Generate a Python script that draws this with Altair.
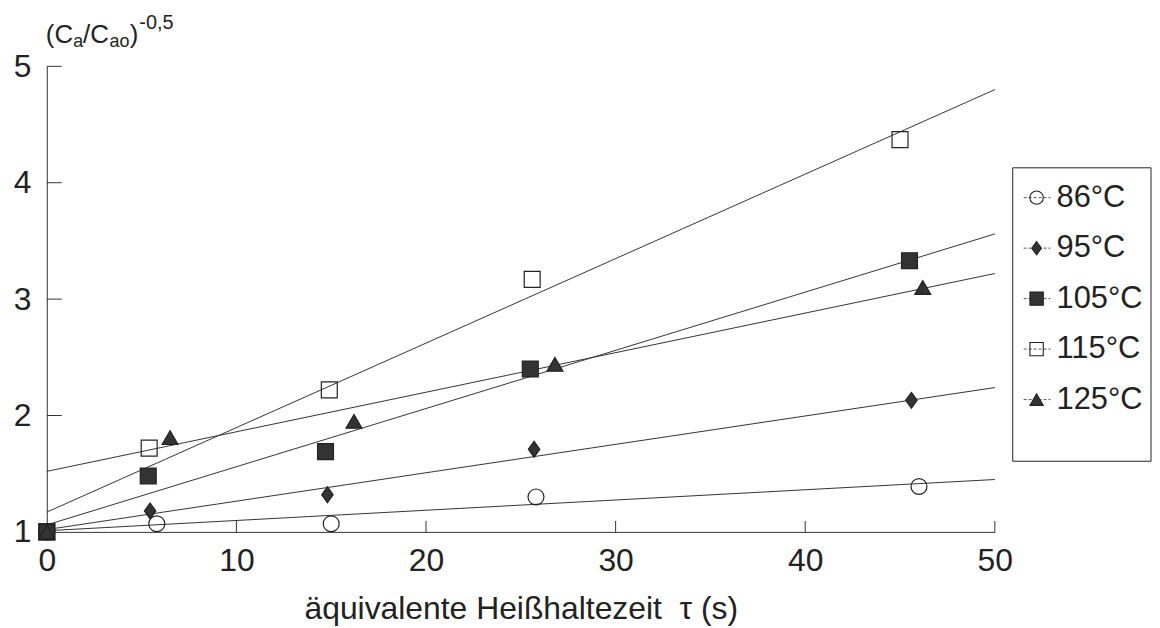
import altair as alt
import pandas as pd

# ---------------- data ----------------
temps = ["86°C", "95°C", "105°C", "115°C", "125°C"]

tau_86 = [0, 5.8, 15.0, 25.8, 46.0]
val_86 = [1.0, 1.07, 1.07, 1.30, 1.39]
tau_95 = [0, 5.45, 14.8, 25.7, 45.6]
val_95 = [1.0, 1.18, 1.32, 1.71, 2.13]
tau_105 = [0, 5.35, 14.7, 25.5, 45.5]
val_105 = [1.0, 1.48, 1.69, 2.40, 3.33]
tau_115 = [0, 5.4, 14.9, 25.6, 45.0]
val_115 = [1.0, 1.72, 2.22, 3.17, 4.37]
tau_125 = [0, 6.5, 16.2, 26.8, 46.2]
val_125 = [1.0, 1.81, 1.95, 2.44, 3.10]

# fitted straight lines: value at tau = 0 and at tau = 50
fit_x = [0, 50]
fit_start = [1.01, 1.02, 1.06, 1.17, 1.52]
fit_end = [1.45, 2.24, 3.56, 4.80, 3.22]

x_ticks = [10, 20, 30, 40, 50]
y_ticks = [2, 3, 4, 5]
x_labels = [0, 10, 20, 30, 40, 50]
y_labels = [1, 2, 3, 4, 5]

x_title = "äquivalente Heißhaltezeit\u00a0\u00a0τ (s)"

# ---------------- tables ----------------
series = {
    "86°C": (tau_86, val_86),
    "95°C": (tau_95, val_95),
    "105°C": (tau_105, val_105),
    "115°C": (tau_115, val_115),
    "125°C": (tau_125, val_125),
}
pts_rows = []
for t in temps:
    xs_, vs_ = series[t]
    for a, b in zip(xs_, vs_):
        pts_rows.append({"temp": t, "tau": a, "val": b})
pts_df = pd.DataFrame(pts_rows)

line_rows = []
for t, s, e in zip(temps, fit_start, fit_end):
    line_rows.append({"temp": t, "tau": fit_x[0], "val": s})
    line_rows.append({"temp": t, "tau": fit_x[1], "val": e})
line_df = pd.DataFrame(line_rows)

leg_df = pd.DataFrame({"temp": temps})

# ---------------- styling ----------------
FONT = "Liberation Sans"
INK = "#222222"
DIAMOND = "M0,-1L0.72,0L0,1L-0.72,0Z"

xs = alt.Scale(domain=[0, 50], nice=False, zero=False)
ys = alt.Scale(domain=[1, 5], nice=False, zero=False)

xaxis = alt.Axis(values=x_labels, format="d", ticks=False, grid=False,
                 labelFont=FONT, labelFontSize=32, labelColor=INK,
                 labelPadding=14, labelFlush=False, labelOverlap=False,
                 domainColor="#333333", domainWidth=1,
                 title=x_title, titleFont=FONT, titleFontSize=32,
                 titleFontWeight="normal", titleColor=INK,
                 titleY=87, titleBaseline="alphabetic")
yaxis = alt.Axis(values=y_labels, format="d", ticks=False, grid=False,
                 labelFont=FONT, labelFontSize=32, labelColor=INK,
                 labelPadding=16, labelOverlap=False,
                 domainColor="#333333", domainWidth=1, title=None)

shape_scale = alt.Scale(domain=temps,
                        range=["circle", DIAMOND, "square", "square", "triangle-up"])
fill_scale = alt.Scale(domain=temps,
                       range=["transparent", "#333333", "#333333", "transparent", "#333333"])
size_scale = alt.Scale(domain=temps, range=[256, 256, 225, 200, 250])

X = lambda f: alt.X(f, scale=xs, axis=xaxis)
Y = lambda f: alt.Y(f, scale=ys, axis=yaxis)

lines = alt.Chart(line_df).mark_line(color="#333333", strokeWidth=1).encode(
    x=X("tau:Q"), y=Y("val:Q"), detail="temp:N")

points = alt.Chart(pts_df).mark_point(filled=True, stroke=INK, strokeWidth=1.2,
                                      opacity=1).encode(
    x=X("tau:Q"), y=Y("val:Q"),
    shape=alt.Shape("temp:N", scale=shape_scale, legend=None),
    fill=alt.Fill("temp:N", scale=fill_scale, legend=None),
    size=alt.Size("temp:O", scale=size_scale, legend=None),
)

xt = alt.Chart(pd.DataFrame({"tau": x_ticks})).mark_rule(color="#333333", strokeWidth=1).encode(
    x=X("tau:Q"), y=alt.value(468), y2=alt.value(457))
yt = alt.Chart(pd.DataFrame({"val": y_ticks})).mark_rule(color="#333333", strokeWidth=1).encode(
    y=Y("val:Q"), x=alt.value(0), x2=alt.value(15))

one = alt.Data(values=[{}])


def piece(txt, x, y, size):
    return alt.Chart(one).mark_text(text=txt, font=FONT, fontSize=size, color=INK,
                                    align="left", baseline="alphabetic").encode(
        x=alt.value(x), y=alt.value(y))


ytitle = [
    piece("(C", -1, -23, 26),
    piece("a", 26.5, -19, 18),
    piece("/C", 36.5, -23, 26),
    piece("ao", 63, -19, 18),
    piece(")", 83.5, -23, 26),
    piece("-0,5", 93, -38, 20),
]

main = alt.layer(lines, points, xt, yt, *ytitle)

# ---------------- legend ----------------
ly = alt.Y("temp:N", sort=temps,
           scale=alt.Scale(type="point", domain=temps, range=[132, 335], padding=0),
           axis=None)

leg_box = alt.Chart(one).mark_rect(fill="white", stroke=INK, strokeWidth=1).encode(
    x=alt.value(971), x2=alt.value(1110), y=alt.value(102), y2=alt.value(397))
leg_rules = alt.Chart(leg_df).mark_rule(color="#555555", strokeWidth=1,
                                        strokeDash=[3, 2]).encode(
    x=alt.value(982), x2=alt.value(1009), y=ly)
leg_pts = alt.Chart(leg_df).mark_point(filled=True, stroke=INK, strokeWidth=1.1,
                                       opacity=1, size=180).encode(
    x=alt.value(995), y=ly,
    shape=alt.Shape("temp:N", scale=shape_scale, legend=None),
    fill=alt.Fill("temp:N", scale=fill_scale, legend=None),
)
leg_text = alt.Chart(leg_df).mark_text(align="left", baseline="middle", font=FONT,
                                       fontSize=31, color=INK).encode(
    x=alt.value(1015), y=ly, text="temp:N")

legend = alt.layer(leg_box, leg_rules, leg_pts, leg_text)

chart = alt.layer(main, legend).resolve_scale(y="independent").properties(
    width=953, height=468,
    autosize=alt.AutoSizeParams(type="none"),
    padding={"left": 39, "top": 57, "right": 158, "bottom": 100},
    background="white",
).configure_view(stroke=None)

chart.save("out.html", embed_options={"renderer": "svg", "actions": False})
